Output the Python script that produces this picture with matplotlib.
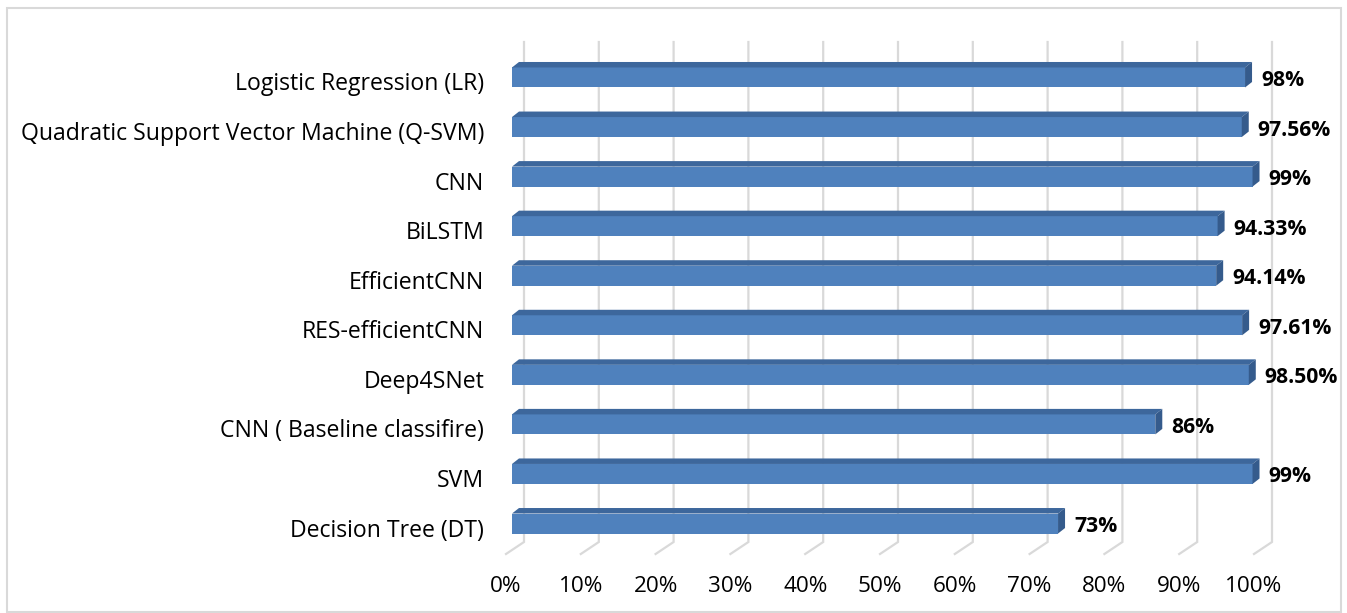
import matplotlib
matplotlib.use("Agg")
import matplotlib.pyplot as plt
from matplotlib.patches import Polygon, Rectangle
from matplotlib.transforms import ScaledTranslation

# Accuracy of each classifier, bottom row first
models = [
    "Decision Tree (DT)",
    "SVM",
    "CNN ( Baseline classifire)",
    "Deep4SNet",
    "RES-efficientCNN",
    "EfficientCNN",
    "BiLSTM",
    "CNN",
    "Quadratic Support Vector Machine (Q-SVM)",
    "Logistic Regression (LR)",
]
accuracy = [73, 99, 86, 98.50, 97.61, 94.14, 94.33, 99, 97.56, 98]
value_labels = ["73%", "99%", "86%", "98.50%", "97.61%", "94.14%",
                "94.33%", "99%", "97.56%", "98%"]
xticks = [0, 10, 20, 30, 40, 50, 60, 70, 80, 90, 100]
xtick_labels = [f"{t}%" for t in xticks]

W, H, DPI = 1347, 613, 100
plt.rcParams["font.family"] = ["Open Sans", "DejaVu Sans"]
FS_CAT = 16.6
FS_VAL = 15.2
FS_TICK = 16.2

fig = plt.figure(figsize=(W / DPI, H / DPI), dpi=DPI)
fig.patch.set_facecolor("white")

# outer chart border
fig.add_artist(Rectangle((7 / W, 1 - 612 / H), (1341 - 7) / W, (612 - 8) / H,
                         transform=fig.transFigure, fill=False,
                         edgecolor="#D9D9D9", linewidth=1.5))

# plot area: front plane of the bars
x0_px, x1_px = 512, 1260
ytop_px, ybot_px = 52.7, 548.3
ax = fig.add_axes([x0_px / W, 1 - ybot_px / H, (x1_px - x0_px) / W,
                   (ybot_px - ytop_px) / H])
ax.set_xlim(0, 100)
ax.set_ylim(-0.5, len(models) - 0.5)
for s in ax.spines.values():
    s.set_visible(False)
ax.patch.set_alpha(0)

px_x = 100 / (x1_px - x0_px)          # data units per pixel, x
px_y = len(models) / (ybot_px - ytop_px)  # data units per pixel, y

# back-wall gridlines with a slanted floor segment
grid_col = "#D9D9D9"
back_dx = 12 * px_x
floor_dx = -6 * px_x
y_wall_top = (ybot_px - 42) * px_y - 0.5
y_wall_bot = (ybot_px - 542) * px_y - 0.5
y_floor = (ybot_px - 554) * px_y - 0.5
for t in xticks:
    ax.plot([t + back_dx, t + back_dx, t + floor_dx],
            [y_wall_top, y_wall_bot, y_floor],
            color=grid_col, lw=1.6, clip_on=False, zorder=1,
            solid_joinstyle="miter")

# 3-D style bars
bar_h = 20 * px_y
dep_x = 7 * px_x
dep_y = 5.5 * px_y
front_col = "#4F81BD"
top_col = "#3D679C"
side_col = "#355B8C"
for i, v in enumerate(accuracy):
    yb = i - bar_h / 2
    yt = i + bar_h / 2
    ax.add_patch(Rectangle((0, yb), v, bar_h, facecolor=front_col,
                           edgecolor="none", zorder=3, clip_on=False))
    ax.add_patch(Polygon([(0, yt), (dep_x, yt + dep_y), (v + dep_x, yt + dep_y),
                          (v, yt)], closed=True, facecolor=top_col,
                         edgecolor="none", zorder=3, clip_on=False))
    ax.add_patch(Polygon([(v, yb), (v, yt), (v + dep_x, yt + dep_y),
                          (v + dep_x, yb + dep_y)], closed=True,
                         facecolor=side_col, edgecolor="none", zorder=3,
                         clip_on=False))
    ax.text(v + 16 * px_x, i - 3 * px_y, value_labels[i], ha="left",
            va="center", fontsize=FS_VAL, fontweight="bold", color="black",
            clip_on=False)

# category labels
ax.set_yticks(range(len(models)))
ax.set_yticklabels(models, fontsize=FS_CAT)
ax.tick_params(axis="y", length=0, pad=20)
shift_y = ScaledTranslation(0, -4 / DPI, fig.dpi_scale_trans)
for lab in ax.get_yticklabels():
    lab.set_transform(lab.get_transform() + shift_y)

# percentage axis labels at the floor's front edge
ax.set_xticks(xticks)
ax.set_xticklabels(xtick_labels, fontsize=FS_TICK)
ax.tick_params(axis="x", length=0, pad=20)
shift_x = ScaledTranslation(-6 / DPI, 0, fig.dpi_scale_trans)
for lab in ax.get_xticklabels():
    lab.set_transform(lab.get_transform() + shift_x)

fig.savefig("out.png", dpi=DPI, facecolor="white")
